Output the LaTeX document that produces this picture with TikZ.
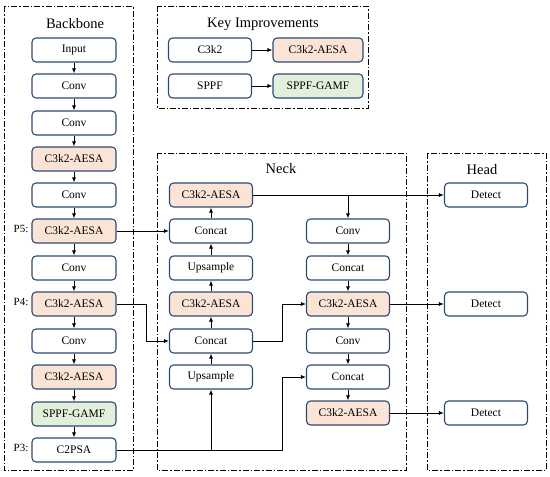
\documentclass[tikz,border=0pt]{standalone}
\usepackage{fontspec}
\setmainfont{Liberation Serif}
\usetikzlibrary{arrows.meta}
\definecolor{bordc}{HTML}{2E4A72}
\definecolor{orfill}{HTML}{FBE4D5}
\definecolor{grfill}{HTML}{E2EFDA}
\tikzset{
  blk/.style={draw=bordc, line width=1.1pt, rounded corners=4pt, fill=white,
    minimum width=84pt, minimum height=24pt, inner sep=1pt,
    font=\fontsize{11.5}{13}\selectfont},
  org/.style={blk, fill=orfill},
  grn/.style={blk, fill=grfill},
  grp/.style={draw=black, line width=0.9pt, dash pattern=on 6pt off 2pt on 1.5pt off 2pt},
  ttl/.style={font=\fontsize{14.5}{16}\selectfont},
  lbl/.style={font=\fontsize{11}{13}\selectfont},
  arr/.style={draw=black, line width=0.8pt, -{Latex[length=5pt,width=4pt]}},
  ln/.style={draw=black, line width=0.8pt}
}
\begin{document}
\begin{tikzpicture}[x=1pt,y=-1pt]
\useasboundingbox (0,0) rectangle (550,477);
% group boxes
\draw[grp] (4,6) rectangle (133,470);
\draw[grp] (157,6) rectangle (368,108);
\draw[grp] (157,153) rectangle (406,470);
\draw[grp] (427,153) rectangle (546,470);
\node[ttl] (tb) at (75,24) {Backbone};
\node[ttl] (tk) at (263,24) {Key Improvements};
\node[ttl] (tn) at (281,169) {Neck};
\node[ttl] (th) at (482,170) {Head};
% backbone
\node[blk] (b1) at (74,50) {Input};
\node[blk] (b2) at (74,86) {Conv};
\node[blk] (b3) at (74,123) {Conv};
\node[org] (b4) at (74,159) {C3k2-AESA};
\node[blk] (b5) at (74,195) {Conv};
\node[org] (b6) at (74,231) {C3k2-AESA};
\node[blk] (b7) at (74,268) {Conv};
\node[org] (b8) at (74,304) {C3k2-AESA};
\node[blk] (b9) at (74,341) {Conv};
\node[org] (b10) at (74,377) {C3k2-AESA};
\node[grn] (b11) at (74,414) {SPPF-GAMF};
\node[blk] (b12) at (74,450) {C2PSA};
\node[lbl] (l5) at (21,229) {P5:};
\node[lbl] (l4) at (21,302) {P4:};
\node[lbl] (l3) at (21,448) {P3:};
\foreach \a/\b in {b1/b2,b2/b3,b3/b4,b4/b5,b5/b6,b6/b7,b7/b8,b8/b9,b9/b10,b10/b11,b11/b12}
  \draw[arr] (\a) -- (\b);
% key improvements
\node[blk, minimum width=83pt] (k1) at (210,50) {C3k2};
\node[org, minimum width=90pt] (k2) at (318,50) {C3k2-AESA};
\node[blk, minimum width=83pt] (k3) at (210,86) {SPPF};
\node[grn, minimum width=90pt] (k4) at (318,86) {SPPF-GAMF};
\draw[arr] (k1) -- (k2);
\draw[arr] (k3) -- (k4);
% neck left
\node[org, minimum width=83pt] (n1) at (211,195) {C3k2-AESA};
\node[blk, minimum width=83pt] (n2) at (211,231) {Concat};
\node[blk, minimum width=83pt] (n3) at (211,268) {Upsample};
\node[org, minimum width=83pt] (n4) at (211,304) {C3k2-AESA};
\node[blk, minimum width=83pt] (n5) at (211,341) {Concat};
\node[blk, minimum width=83pt] (n6) at (211,377) {Upsample};
\foreach \a/\b in {n6/n5,n5/n4,n4/n3,n3/n2,n2/n1}
  \draw[arr] (\a) -- (\b);
% neck right
\node[blk, minimum width=83pt] (r1) at (348,231) {Conv};
\node[blk, minimum width=83pt] (r2) at (348,268) {Concat};
\node[org, minimum width=83pt] (r3) at (348,304) {C3k2-AESA};
\node[blk, minimum width=83pt] (r4) at (348,341) {Conv};
\node[blk, minimum width=83pt] (r5) at (348,377) {Concat};
\node[org, minimum width=83pt] (r6) at (348,413) {C3k2-AESA};
\foreach \a/\b in {r1/r2,r2/r3,r3/r4,r4/r5,r5/r6}
  \draw[arr] (\a) -- (\b);
% head
\node[blk, minimum width=83pt] (d1) at (486,195) {Detect};
\node[blk, minimum width=83pt] (d2) at (486,304) {Detect};
\node[blk, minimum width=83pt] (d3) at (486,413) {Detect};
% coordinates for bends
\coordinate (p4x) at (146,0);
\coordinate (p3x) at (282,0);
% connections
\draw[arr] (b6) -- (n2);
\draw[arr] (b8.east) -- (b8.east -| p4x) |- (n5.west);
\draw[arr] (b12.east) -- (b12.east -| p3x) |- (r5.west);
\draw[arr] (b12.east -| n6) -- (n6.south);
\draw[arr] (n5.east) -- (n5.east -| p3x) |- (r3.west);
\draw[arr] (n1.east) -- (d1.west);
\draw[arr] (n1.east -| r1) -- (r1.north);
\draw[arr] (r3) -- (d2);
\draw[arr] (r6) -- (d3);
\end{tikzpicture}
\end{document}
